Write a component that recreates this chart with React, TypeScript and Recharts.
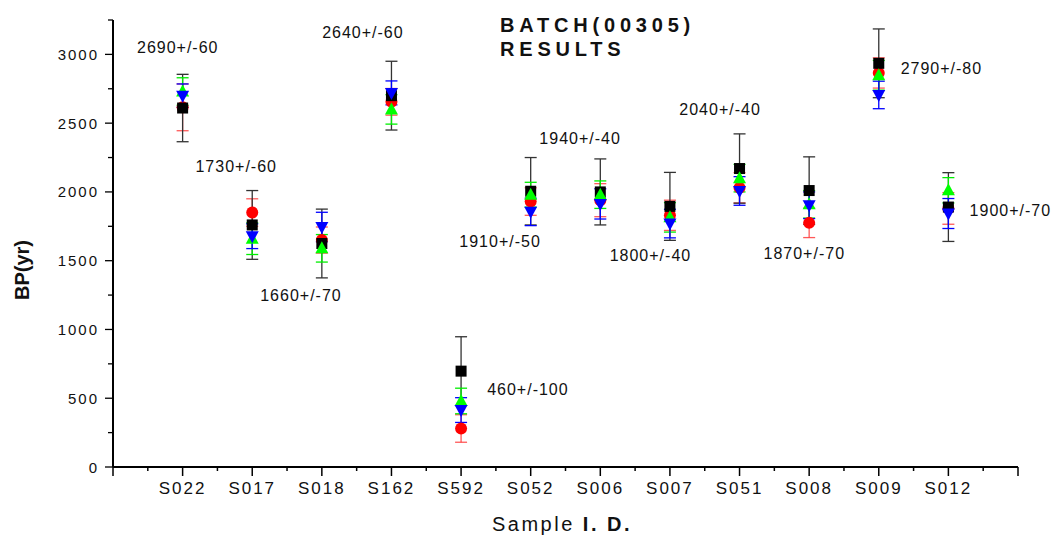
import React from "react";
import { ComposedChart, Scatter, XAxis, YAxis, ErrorBar, Label } from "recharts";

const samples = ["S022", "S017", "S018", "S162", "S592", "S052", "S006", "S007", "S051", "S008", "S009", "S012"];

// four runs per sample, each with its own error
const blackVals = [2610, 1760, 1625, 2700, 697, 2005, 2000, 1895, 2170, 2010, 2935, 1890];
const blackErr = [245, 250, 250, 250, 250, 245, 240, 247, 252, 245, 250, 250];
const redVals = [2615, 1850, 1650, 2655, 280, 1930, 1940, 1830, 2030, 1775, 2865, 1880];
const redErr = [170, 100, 95, 97, 100, 100, 120, 110, 110, 107, 110, 115];
const greenVals = [2730, 1660, 1590, 2600, 480, 1980, 1980, 1815, 2100, 1910, 2848, 2012];
const greenErr = [100, 115, 100, 107, 93, 90, 100, 107, 100, 100, 108, 92];
const blueVals = [2700, 1678, 1745, 2720, 414, 1855, 1913, 1770, 2007, 1903, 2705, 1843];
const blueErr = [85, 90, 107, 87, 90, 100, 110, 104, 104, 97, 100, 109];

// reported ages, anchored in data units (sample index, BP)
const noteTexts = ["2690+/-60", "2640+/-60", "1730+/-60", "1660+/-70", "460+/-100", "1910+/-50", "1940+/-40", "1800+/-40", "2040+/-40", "1870+/-70", "2790+/-80", "1900+/-70"];
const noteX = [0.93, 3.59, 1.77, 2.7, 5.96, 5.56, 6.71, 7.72, 8.72, 9.93, 11.9, 12.89];
const noteY = [3051, 3160, 2186, 1249, 567, 1642, 2390, 1540, 2600, 1554, 2898, 1867];

const yTicks = [0, 250, 500, 750, 1000, 1250, 1500, 1750, 2000, 2250, 2500, 2750, 3000, 3250];
const xTicks = [0, 0.5, 1, 1.5, 2, 2.5, 3, 3.5, 4, 4.5, 5, 5.5, 6, 6.5, 7, 7.5, 8, 8.5, 9, 9.5, 10, 10.5, 11, 11.5, 12, 12.5, 13];

const FONT = "'Liberation Sans', Arial, sans-serif";

const toPoints = (vals: number[], errs: number[]) =>
  vals.map((v, i) => ({ x: i + 1, y: v, err: errs[i] }));

const blackData = toPoints(blackVals, blackErr);
const redData = toPoints(redVals, redErr);
const greenData = toPoints(greenVals, greenErr);
const blueData = toPoints(blueVals, blueErr);
const noteData = noteTexts.map((t, i) => ({ x: noteX[i], y: noteY[i], text: t }));

function Marker({ cx, cy, kind, fill }: any) {
  if (cx == null || cy == null) return null;
  if (kind === "square") return <rect x={cx - 5.5} y={cy - 5.5} width={11} height={11} fill={fill} />;
  if (kind === "circle") return <circle cx={cx} cy={cy} r={6} fill={fill} />;
  if (kind === "up")
    return <polygon points={`${cx},${cy - 7} ${cx + 6.5},${cy + 5} ${cx - 6.5},${cy + 5}`} fill={fill} />;
  return <polygon points={`${cx},${cy + 7} ${cx + 6.5},${cy - 5} ${cx - 6.5},${cy - 5}`} fill={fill} />;
}

function NoteText(props: any) {
  const { cx, cy, payload } = props;
  if (cx == null) return null;
  return (
    <text x={cx} y={cy} textAnchor="middle" dominantBaseline="central" fontFamily={FONT} fontSize={16} letterSpacing={1} fill="#111">
      {payload?.text}
    </text>
  );
}

function YTick({ x, y, payload }: any) {
  const v = payload.value;
  const major = v % 500 === 0;
  return (
    <g>
      <line x1={x - (major ? 8 : 5)} y1={y} x2={x} y2={y} stroke="#000" strokeWidth={1.3} />
      {major && (
        <text x={x - 14} y={y} textAnchor="end" dominantBaseline="central" fontFamily={FONT} fontSize={15} letterSpacing={2} fill="#111">
          {v}
        </text>
      )}
    </g>
  );
}

function XTick({ x, y, payload }: any) {
  const v = payload.value;
  const whole = Number.isInteger(v);
  const label = whole && v >= 1 && v <= samples.length ? samples[v - 1] : null;
  return (
    <g>
      <line x1={x} y1={y} x2={x} y2={y + (whole ? 9 : 4)} stroke="#000" strokeWidth={1.5} />
      {label && (
        <text x={x} y={y + 21} textAnchor="middle" dominantBaseline="central" fontFamily={FONT} fontSize={17} letterSpacing={2} fill="#111">
          {label}
        </text>
      )}
    </g>
  );
}

export default function App() {
  return (
    <div style={{ position: "absolute", left: 0, top: 0, width: 1055, height: 537, background: "#fff" }}>
      <ComposedChart width={1055} height={537} margin={{ top: 20, right: 37, bottom: 0, left: 0 }}>
        <XAxis
          type="number"
          dataKey="x"
          domain={[0, 13]}
          ticks={xTicks}
          interval={0}
          tickLine={false}
          tickSize={0}
          tickMargin={0}
          tick={<XTick />}
          height={70}
          axisLine={{ stroke: "#000", strokeWidth: 2 }}
        >
          <Label
            content={() => (
              <text x={562} y={524} textAnchor="middle" dominantBaseline="central" fontFamily={FONT} fontSize={20} letterSpacing={2.5} fill="#111">
                Sample <tspan fontWeight="bold">I. D.</tspan>
              </text>
            )}
          />
        </XAxis>
        <YAxis
          type="number"
          dataKey="y"
          domain={[0, 3250]}
          ticks={yTicks}
          interval={0}
          tickLine={false}
          tickSize={0}
          tickMargin={0}
          tick={<YTick />}
          width={113}
          axisLine={{ stroke: "#000", strokeWidth: 2 }}
        >
          <Label
            content={() => (
              <text x={22} y={270} textAnchor="middle" dominantBaseline="central" fontFamily={FONT} fontSize={20} fontWeight="bold" fill="#111" transform="rotate(-90 22 270)">
                BP(yr)
              </text>
            )}
          />
        </YAxis>

        <Scatter data={redData} isAnimationActive={false} shape={(p: any) => <Marker {...p} kind="circle" fill="#ff0000" />}>
          <ErrorBar dataKey="err" direction="y" width={6} stroke="#ff3030" strokeOpacity={0.8} strokeWidth={1.3} />
        </Scatter>
        <Scatter data={blackData} isAnimationActive={false} shape={(p: any) => <Marker {...p} kind="square" fill="#000" />}>
          <ErrorBar dataKey="err" direction="y" width={6} stroke="#333" strokeWidth={1.3} />
        </Scatter>
        <Scatter data={greenData} isAnimationActive={false} shape={(p: any) => <Marker {...p} kind="up" fill="#00ff00" />}>
          <ErrorBar dataKey="err" direction="y" width={6} stroke="#00ee00" strokeWidth={1.3} />
        </Scatter>
        <Scatter data={blueData} isAnimationActive={false} shape={(p: any) => <Marker {...p} kind="down" fill="#0000ff" />}>
          <ErrorBar dataKey="err" direction="y" width={6} stroke="#0000ff" strokeWidth={1.3} />
        </Scatter>
        <Scatter data={noteData} isAnimationActive={false} shape={<NoteText />} />
      </ComposedChart>
      <div
        style={{
          position: "absolute",
          left: 500,
          top: 13,
          fontFamily: FONT,
          fontWeight: "bold",
          fontSize: 20,
          letterSpacing: 4.8,
          lineHeight: "24px",
          color: "#111",
        }}
      >
        BATCH(00305)
        <br />
        RESULTS
      </div>
    </div>
  );
}
